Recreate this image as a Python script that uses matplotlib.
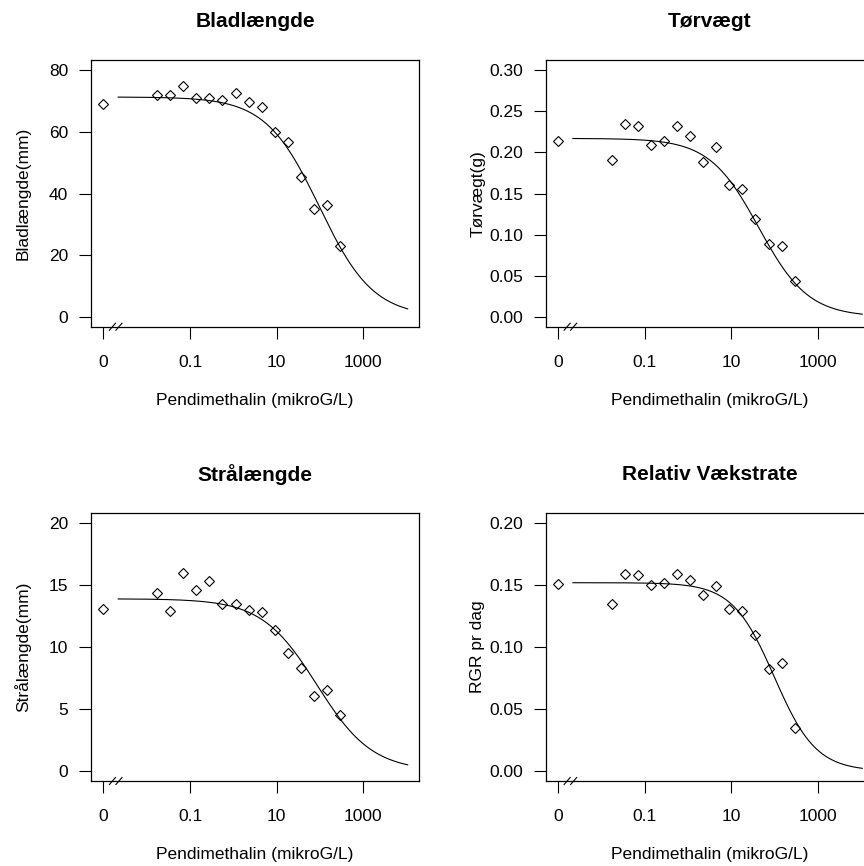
import numpy as np
import matplotlib
matplotlib.use("Agg")
import matplotlib.pyplot as plt
from matplotlib import font_manager
from matplotlib.transforms import blended_transform_factory

# fonts: narrow face for axis text if available, like the old windows R device
names = {f.name for f in font_manager.fontManager.ttflist}
if "Liberation Sans Narrow" in names:
    txtfont, fs = "Liberation Sans Narrow", 15.0
else:
    txtfont, fs = "Liberation Sans", 12.5
plt.rcParams["font.family"] = [txtfont, "DejaVu Sans"]

# doses (mikroG/L); control (0) is drawn at the break position 0.001
doses = [0.0175, 0.035, 0.07, 0.14, 0.28, 0.56, 1.12, 2.25, 4.5, 9.0, 18, 36, 72, 145, 290]
zero_pos = 0.001

# observed responses, first value is the control
blad   = [69.0, 72.0, 72.0, 74.9, 71.1, 70.9, 70.3, 72.6, 69.6, 68.2, 60.1, 56.6, 45.5, 35.0, 36.4, 23.0]
torv   = [0.214, 0.191, 0.235, 0.232, 0.209, 0.214, 0.232, 0.220, 0.188, 0.207, 0.160, 0.155, 0.119, 0.088, 0.086, 0.043]
straal = [13.05, 14.34, 12.91, 15.97, 14.58, 15.33, 13.45, 13.45, 13.02, 12.81, 11.38, 9.56, 8.30, 6.07, 6.58, 4.54]
rgr    = [0.151, 0.135, 0.159, 0.158, 0.150, 0.152, 0.159, 0.154, 0.142, 0.149, 0.131, 0.129, 0.110, 0.082, 0.087, 0.035]

# fitted log-logistic parameters (upper limit d, slope b, ED50 e), lower limit 0
fits = {
    "blad":   (71.3, 0.70, 97.0),
    "torv":   (0.217, 0.76, 43.0),
    "straal": (13.9, 0.68, 85.0),
    "rgr":    (0.152, 0.90, 98.0),
}
curve_from, curve_to = 0.0022, 10500.0

titles  = ["Bladlængde", "Tørvægt", "Strålængde", "Relativ Vækstrate"]
ylabels = ["Bladlængde(mm)", "Tørvægt(g)", "Strålængde(mm)", "RGR pr dag"]
keys    = ["blad", "torv", "straal", "rgr"]
series  = [blad, torv, straal, rgr]
yticks  = [[0, 20, 40, 60, 80],
           [0.00, 0.05, 0.10, 0.15, 0.20, 0.25, 0.30],
           [0, 5, 10, 15, 20],
           [0.00, 0.05, 0.10, 0.15, 0.20]]
yfmt    = ["%d", "%.2f", "%d", "%.2f"]
xticks  = [zero_pos, 0.1, 10, 1000]
xticklabels = ["0", "0.1", "10", "1000"]
xlab = "Pendimethalin (mikroG/L)"

W, H = 864, 866
fig = plt.figure(figsize=(W/100, H/100), dpi=100)

# panel boxes in pixels: left, top, right, bottom
boxes = [(91, 60.3, 419.3, 326.7),
         (545.7, 60.3, 873.9, 326.7),
         (91, 513.3, 419.3, 781),
         (545.7, 513.3, 873.9, 781)]

for i in range(4):
    l, t, r, b = boxes[i]
    ax = fig.add_axes([l/W, 1 - b/H, (r - l)/W, (b - t)/H])
    y = series[i]
    d, sl, e = fits[keys[i]]

    xc = np.logspace(np.log10(curve_from), np.log10(curve_to), 300)
    yc = d / (1 + np.exp(sl*(np.log(xc) - np.log(e))))
    ax.plot(xc, yc, color="black", lw=0.8)

    ax.plot([zero_pos] + doses, y, linestyle="none", marker="D", ms=4.6,
            mfc="none", mec="black", mew=0.8)

    ax.set_xscale("log")
    ax.set_xlim(10**-3.285, 10**4.29)
    top = yticks[i][-1]
    ax.set_ylim(-0.04*top, 1.04*top)

    ax.set_xticks(xticks)
    ax.set_xticklabels(xticklabels)
    ax.xaxis.set_minor_locator(matplotlib.ticker.NullLocator())
    ax.set_yticks(yticks[i])
    ax.set_yticklabels([yfmt[i] % v for v in yticks[i]])
    ax.tick_params(axis="both", direction="out", length=8.3, width=0.8,
                   labelsize=fs, color="black")
    ax.tick_params(axis="x", pad=12)
    ax.tick_params(axis="y", pad=8)
    for sp in ax.spines.values():
        sp.set_linewidth(0.9)
        sp.set_color("black")

    hb = b - t
    ax.text(0.5, 1 + 39/hb, titles[i], transform=ax.transAxes, ha="center",
            va="center", fontsize=15, fontweight="bold", family="Liberation Sans")
    ax.text(-68/(r - l), 0.5, ylabels[i], transform=ax.transAxes, rotation=90,
            ha="center", va="center", fontsize=fs)
    ax.text(0.5, -74/hb, xlab, transform=ax.transAxes, ha="center",
            va="center", fontsize=fs)

    # axis break mark "//" between control and doses
    tr = blended_transform_factory(ax.transData, ax.transAxes)
    dy = 3.5/hb
    for c in (-2.79, -2.64):
        ax.plot([10**(c - 0.07), 10**(c + 0.07)], [-dy, dy], color="black",
                lw=0.8, transform=tr, clip_on=False)

fig.savefig("out.png", dpi=100)
